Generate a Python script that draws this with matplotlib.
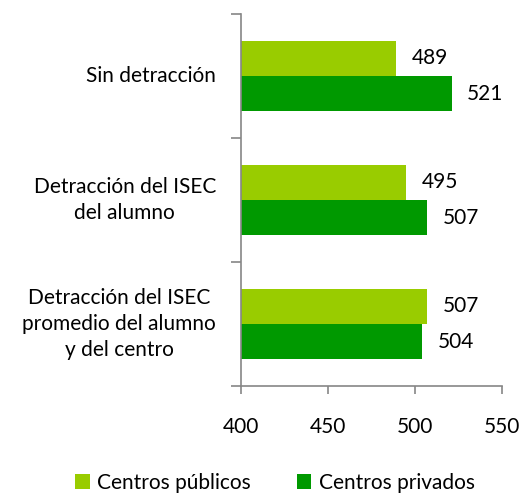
import matplotlib.pyplot as plt
import numpy as np

plt.rcParams['font.family'] = ['Lato', 'DejaVu Sans']

categories = ["Sin detracción",
              "Detracción del ISEC\ndel alumno",
              "Detracción del ISEC\npromedio del alumno\ny del centro"]
publicos = [489, 495, 507]
privados = [521, 507, 504]
series_names = ["Centros públicos", "Centros privados"]
xticks = [400, 450, 500, 550]

c_pub = '#99CC00'
c_priv = '#009900'
axis_col = '#868686'
fs = 15

fig = plt.figure(figsize=(5.21, 4.95), dpi=100)
ax = fig.add_axes([241 / 521, 1 - 386 / 495, 261 / 521, 372 / 495])

n = len(categories)
y = n - 1 - np.arange(n)  # first category on top
h = 0.285
ax.barh(y + h / 2, np.array(publicos) - 400, left=400, height=h, color=c_pub, label=series_names[0])
ax.barh(y - h / 2, np.array(privados) - 400, left=400, height=h, color=c_priv, label=series_names[1])

for yi, v in zip(y + h / 2, publicos):
    ax.text(v + 9, yi, str(v), va='center', ha='left', fontsize=fs)
for yi, v in zip(y - h / 2, privados):
    ax.text(v + 9, yi, str(v), va='center', ha='left', fontsize=fs)

ax.set_xlim(400, 550)
ax.set_ylim(-0.5, n - 0.5)
ax.set_xticks(xticks)
ax.set_xticklabels([str(t) for t in xticks], fontsize=fs)
ax.tick_params(axis='x', length=6, color=axis_col, width=1.2, pad=16)

# category boundaries as ticks, labels at centers
ax.set_yticks(np.arange(n + 1) - 0.5)
ax.set_yticklabels([])
ax.tick_params(axis='y', length=7, color=axis_col, width=1.2)
for yi, lab in zip(y, categories):
    ax.text(-25 / 261, yi, lab, transform=ax.get_yaxis_transform(), ha='right', va='center',
            multialignment='center', fontsize=fs, linespacing=1.4)

for s in ['top', 'right']:
    ax.spines[s].set_visible(False)
for s in ['left', 'bottom']:
    ax.spines[s].set_color(axis_col)
    ax.spines[s].set_linewidth(1.2)

fig.legend(loc='center', bbox_to_anchor=(275 / 521, 1 - 483 / 495), ncol=2, frameon=False,
           fontsize=fs, handlelength=0.7, handleheight=0.7, columnspacing=2.2, handletextpad=0.35,
           borderpad=0)

fig.savefig('out.png', dpi=100)
